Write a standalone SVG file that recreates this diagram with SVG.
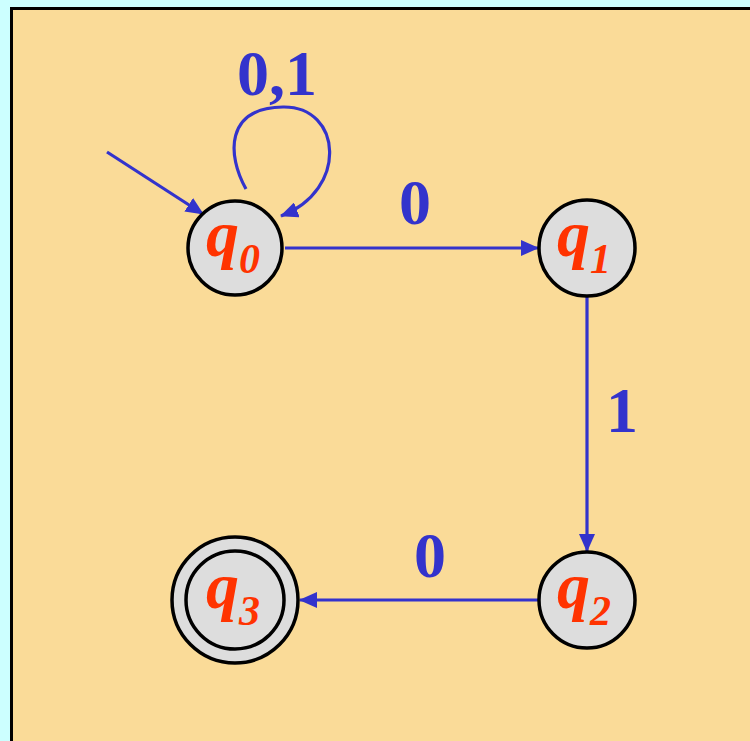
<svg xmlns="http://www.w3.org/2000/svg" width="750" height="741" viewBox="0 0 750 741">
  <defs>
    <marker id="arrow" markerUnits="userSpaceOnUse" markerWidth="18" markerHeight="16" viewBox="0 0 18 16" refX="17" refY="8" orient="auto">
      <path d="M0,0 L18,8 L0,16 Z" fill="#3333cc"/>
    </marker>
    <style>
      .state { fill: #dddddd; stroke: #000000; stroke-width: 3.5; }
      .qname { font-family: "Liberation Serif", "Times New Roman", serif; font-style: italic; font-weight: bold; font-size: 66px; fill: #ff3300; }
      .edge { fill: none; stroke: #3333cc; stroke-width: 3.2; marker-end: url(#arrow); }
      .label { font-family: "Liberation Serif", "Times New Roman", serif; font-weight: bold; font-size: 64px; fill: #3333cc; text-anchor: middle; }
    </style>
  </defs>

  <!-- backdrop and slide panel -->
  <rect x="0" y="0" width="750" height="741" fill="#ccffff"/>
  <rect x="11.5" y="8.5" width="760" height="760" fill="#fadb98" stroke="#000000" stroke-width="3"/>

  <!-- transitions -->
  <g id="connectors">
    <line class="edge" x1="107" y1="152" x2="203" y2="214"/>
    <path class="edge" d="M246,189 C227,155 225,108 283,107 C342,106 349,190 281,216"/>
    <line class="edge" x1="285" y1="248" x2="538" y2="248"/>
    <line class="edge" x1="587" y1="297" x2="587" y2="551"/>
    <line class="edge" x1="538" y1="600" x2="300" y2="600"/>
    <text class="label" x="277" y="95">0,1</text>
    <text class="label" x="415" y="224">0</text>
    <text class="label" x="622" y="432">1</text>
    <text class="label" x="430" y="577">0</text>
  </g>

  <g id="q0">
    <circle class="state" cx="235" cy="248" r="47"/>
    <text class="qname" x="233" y="256" text-anchor="middle">q<tspan dy="17" font-size="42">0</tspan></text>
  </g>

  <g id="q1">
    <circle class="state" cx="587" cy="248" r="48"/>
    <text class="qname" x="584" y="256" text-anchor="middle">q<tspan dy="17" font-size="42">1</tspan></text>
  </g>

  <g id="q2">
    <circle class="state" cx="587" cy="600" r="48"/>
    <text class="qname" x="584" y="608" text-anchor="middle">q<tspan dy="17" font-size="42">2</tspan></text>
  </g>

  <g id="q3">
    <circle class="state" cx="235" cy="600" r="63"/>
    <circle class="state" cx="235" cy="600" r="49"/>
    <text class="qname" x="233" y="608" text-anchor="middle">q<tspan dy="17" font-size="42">3</tspan></text>
  </g>
</svg>
